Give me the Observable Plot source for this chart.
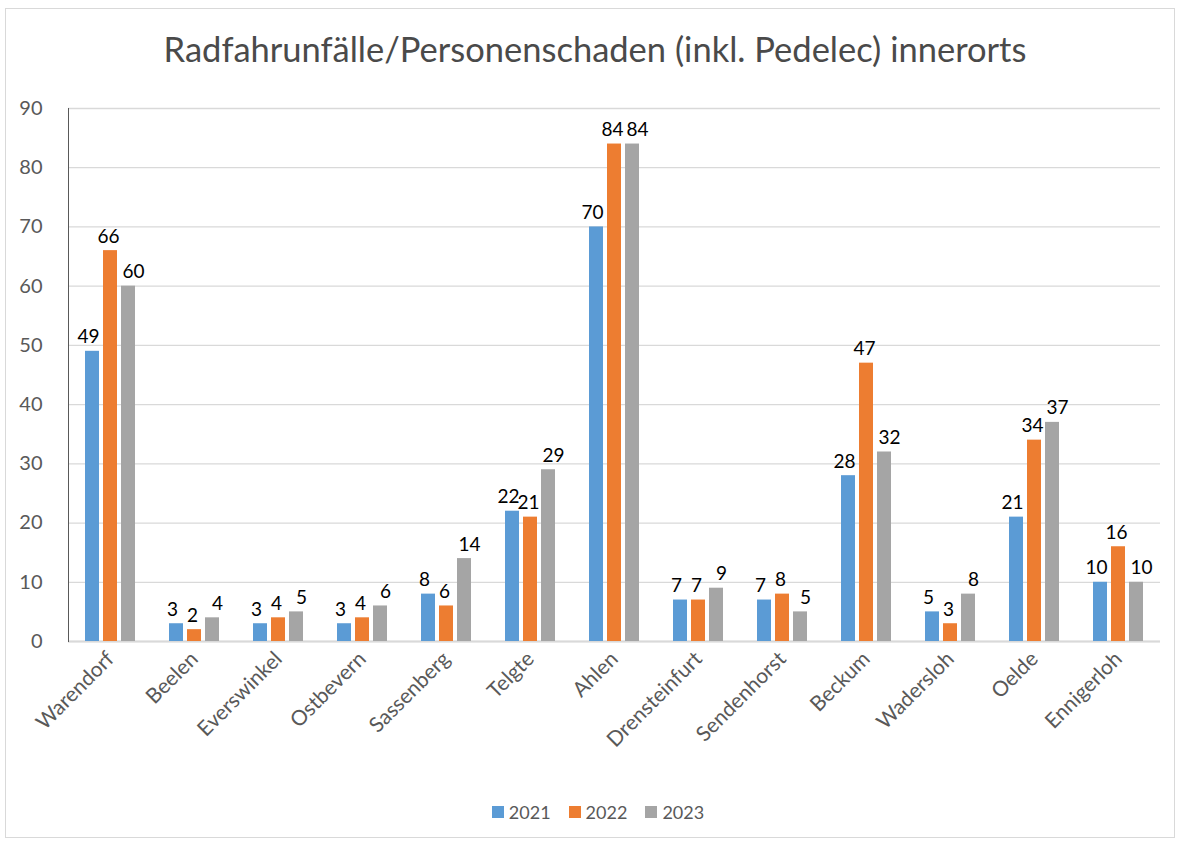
<!DOCTYPE html>
<html><head><meta charset="utf-8">
<script src="https://cdn.jsdelivr.net/npm/d3@7"></script>
<script src="https://cdn.jsdelivr.net/npm/@observablehq/plot@0.6"></script>
<style>
body{margin:0;background:#fff;font-family:Lato,sans-serif;}
#wrap{position:relative;width:1181px;height:845px;overflow:hidden;}
#border{position:absolute;left:5px;top:8px;width:1170px;height:830px;border:1.5px solid #d9d9d9;box-sizing:border-box;}
#title{position:absolute;top:30px;left:0;width:1190px;text-align:center;font-size:34.5px;line-height:38px;color:#4a4a4a;}
#chart{position:absolute;top:88px;left:0;}
#legend{position:absolute;top:801px;left:0;width:1196px;display:flex;justify-content:center;gap:18px;font-size:18px;color:#595959;line-height:22px;}
#legend span.sw{display:inline-block;width:12px;height:12px;margin-right:5px;}
</style></head>
<body>
<div id="wrap">
<div id="border"></div>
<div id="title">Radfahrunfälle/Personenschaden (inkl. Pedelec) innerorts</div>
<div id="chart"></div>
<div id="legend"></div>
</div>
<script>
const categories = ["Warendorf","Beelen","Everswinkel","Ostbevern","Sassenberg","Telgte","Ahlen","Drensteinfurt","Sendenhorst","Beckum","Wadersloh","Oelde","Ennigerloh"];
const years = ["2021","2022","2023"];
const v2021 = [49,3,3,3,8,22,70,7,7,28,5,21,10];
const v2022 = [66,2,4,4,6,21,84,7,8,47,3,34,16];
const v2023 = [60,4,5,6,14,29,84,9,5,32,8,37,10];
const colors = ["#5B9BD5","#ED7D31","#A5A5A5"];
const yTicks = [0,10,20,30,40,50,60,70,80,90];

const series = [v2021, v2022, v2023];
const data = [];
categories.forEach((c, i) => years.forEach((y, j) => data.push({cat: c, year: y, value: series[j][i]})));

// small horizontal nudges so neighbouring value labels do not collide
const labelNudge = [-4, -2, 5];

const chart = Plot.plot({
  width: 1181,
  height: 700,
  marginTop: 20,
  marginBottom: 147,
  marginLeft: 68,
  marginRight: 21,
  style: {fontFamily: "Lato, sans-serif", fontSize: "20px", color: "#595959", background: "transparent"},
  fx: {domain: categories, padding: 0, label: null},
  x: {domain: years, paddingInner: 0.24, paddingOuter: 0.84, axis: null},
  y: {domain: [0, 90], ticks: yTicks, label: null},
  color: {domain: years, range: colors},
  marks: [
    Plot.gridY(yTicks, {stroke: "#d9d9d9", strokeOpacity: 1, strokeWidth: 1.3}),
    Plot.ruleY([0], {stroke: "#d9d9d9", strokeWidth: 2}),
    Plot.barY(data, {fx: "cat", x: "year", y: "value", fill: "year"}),
    ...years.map((yr, j) => Plot.text(data.filter(d => d.year === yr), {
      fx: "cat", x: "year", y: "value", text: d => String(d.value),
      lineAnchor: "bottom", dy: -8, dx: labelNudge[j], fill: "black", fontSize: 19
    })),
    Plot.axisY(yTicks, {tickSize: 0, tickPadding: 26, fontSize: 20, label: null}),
    Plot.axisFx({anchor: "bottom", tickRotate: -45, tickSize: 0, tickPadding: 14, fontSize: 21, label: null}),
    Plot.frame({anchor: "left", facetAnchor: "left", stroke: "#595959"})
  ]
});
document.getElementById("chart").appendChild(chart);

const legend = document.getElementById("legend");
years.forEach((y, i) => {
  const item = document.createElement("div");
  item.style.display = "flex";
  item.style.alignItems = "center";
  const sw = document.createElement("span");
  sw.className = "sw";
  sw.style.background = colors[i];
  item.appendChild(sw);
  item.appendChild(document.createTextNode(y));
  legend.appendChild(item);
});
</script>
</body></html>
